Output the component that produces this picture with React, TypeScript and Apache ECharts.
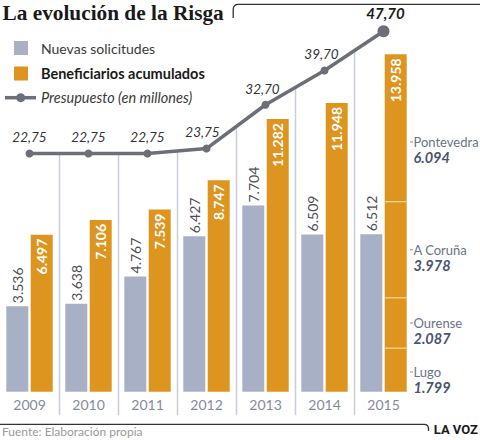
import React, { useEffect, useRef } from "react";
import * as echarts from "echarts";

const years = ["2009", "2010", "2011", "2012", "2013", "2014", "2015"];
const nuevasSolicitudes = [3536, 3638, 4767, 6427, 7704, 6509, 6512];
const beneficiarios = [6497, 7106, 7539, 8747, 11282, 11948, 13958];
const presupuesto = [22.75, 22.75, 22.75, 23.75, 32.7, 39.7, 47.7];
const provincias = ["Lugo", "Ourense", "A Coruña", "Pontevedra"];
const beneficiarios2015 = [1799, 2087, 3978, 6094];

const titleText = "La evolución de la Risga";
const legendNames = ["Nuevas solicitudes", "Beneficiarios acumulados", "Presupuesto (en millones)"];
const sourceText = "Fuente: Elaboración propia";
const brandText = "LA VOZ";

const GRAY = "#a8b0c5";
const ORANGE = "#de9520";
const LINE = "#6c6f78";
const SANS = "Lato, 'Noto Sans', sans-serif";

const fmtInt = (n: number) => String(n).replace(/\B(?=(\d{3})+(?!\d))/g, ".");
const fmtDec = (n: number) => n.toFixed(2).replace(".", ",");

echarts.graphic.registerShape(
  "frameTop",
  echarts.graphic.extendPath("M233.2,18 L233.2,9.5 Q233.2,4.3 238.4,4.3 L480,4.3", {})
);
echarts.graphic.registerShape(
  "frameBottom",
  echarts.graphic.extendPath("M0,424.3 L424,424.3 Q428.5,424.3 428.5,428.8 L428.5,431", {})
);

export default function App() {
  const ref = useRef<HTMLDivElement>(null);
  useEffect(() => {
    document.body.style.margin = "0";
    const chart = echarts.init(ref.current!, undefined, { renderer: "svg" });

    const sepData = years.slice(1).map((_, i) => [i + 1, 0]);
    let acc = 0;
    const breakdown = beneficiarios2015.map((v, i) => {
      const row = [years.length - 1, acc, v, i];
      acc += v;
      return row;
    });
    const labelShift = [2, 0, 0, 14];

    const option: any = {
      animation: false,
      backgroundColor: "#ffffff",
      grid: { left: -2, right: 67, top: 20, bottom: 48.3 },
      xAxis: {
        type: "category",
        data: years,
        boundaryGap: true,
        axisLine: { show: false },
        axisTick: { show: false },
        splitLine: { show: false },
        axisLabel: { color: "#848aa0", fontSize: 14, fontFamily: SANS, margin: 5.5 },
      },
      yAxis: [
        { type: "value", min: 0, max: 15380, show: false, splitLine: { show: false } },
        { type: "value", min: -25.9, max: 50, show: false, splitLine: { show: false } },
      ],
      series: [
        {
          type: "custom",
          name: "separadores",
          coordinateSystem: "cartesian2d",
          clip: false,
          z: 1,
          encode: { x: 0, y: 1 },
          data: sepData,
          renderItem: (params: any, api: any) => {
            const c = api.coord([api.value(0), 0]);
            const bw = api.size([1, 0])[0];
            const x = Math.round(c[0] - bw / 2) + 0.5;
            return {
              type: "line",
              shape: { x1: x, y1: params.coordSys.y, x2: x, y2: c[1] + 23.5 },
              style: { stroke: "#c8cdd9", lineWidth: 1.5 },
            };
          },
        },
        {
          type: "bar",
          name: legendNames[0],
          data: nuevasSolicitudes,
          barWidth: 22,
          barGap: "11%",
          itemStyle: { color: GRAY },
          label: {
            show: true,
            position: "top",
            rotate: 90,
            align: "left",
            verticalAlign: "middle",
            distance: 3,
            color: "#4d4f55",
            fontSize: 14,
            fontFamily: SANS,
            formatter: (p: any) => fmtInt(p.value),
          },
        },
        {
          type: "bar",
          name: legendNames[1],
          data: beneficiarios,
          barWidth: 22,
          itemStyle: { color: ORANGE },
          label: {
            show: true,
            position: "insideTop",
            rotate: 90,
            align: "right",
            verticalAlign: "middle",
            distance: 4,
            color: "#ffffff",
            fontWeight: "bold",
            fontSize: 14,
            fontFamily: SANS,
            formatter: (p: any) => fmtInt(p.value),
          },
        },
        {
          type: "line",
          name: legendNames[2],
          yAxisIndex: 1,
          z: 3,
          data: presupuesto.map((v, i) => {
            const last = i === presupuesto.length - 1;
            return {
              value: v,
              symbolSize: last ? 12 : 8,
              label: last
                ? { fontWeight: "bold", fontSize: 15, color: "#1a1a1a", offset: [2, 0] }
                : i === 3
                ? { offset: [-4, -1] }
                : i >= 4
                ? { offset: [-3, 0] }
                : {},
            };
          }),
          symbol: "circle",
          itemStyle: { color: LINE },
          lineStyle: { color: LINE, width: 3.5 },
          areaStyle: { color: "#ffffff", opacity: 1, origin: "end" },
          label: {
            show: true,
            position: "top",
            distance: 5,
            fontStyle: "italic",
            fontSize: 13.5,
            fontFamily: SANS,
            color: "#333333",
            formatter: (p: any) => fmtDec(p.value),
          },
        },
        {
          type: "custom",
          name: "desglose",
          coordinateSystem: "cartesian2d",
          clip: false,
          z: 4,
          encode: { x: 0, y: 1 },
          data: breakdown,
          renderItem: (params: any, api: any) => {
            const idx = api.value(0);
            const start = api.value(1);
            const val = api.value(2);
            const k = api.value(3);
            const base = api.coord([idx, start]);
            const mid = api.coord([idx, start + val / 2]);
            const cx = base[0];
            const ly = mid[1] + labelShift[k];
            const children: any[] = [];
            if (start > 0) {
              children.push({
                type: "line",
                shape: { x1: cx + 1.2, y1: base[1], x2: cx + 23.2, y2: base[1] },
                style: { stroke: "#f6d48c", lineWidth: 1.3 },
              });
            }
            children.push({
              type: "line",
              shape: { x1: cx + 26.5, y1: ly, x2: cx + 29.5, y2: ly },
              style: { stroke: "#8b91a3", lineWidth: 1 },
            });
            children.push({
              type: "text",
              style: {
                text: provincias[k],
                x: cx + 30,
                y: ly,
                verticalAlign: "middle",
                align: "left",
                fill: "#6b7286",
                fontSize: 13,
                fontFamily: SANS,
              },
            });
            children.push({
              type: "text",
              style: {
                text: fmtInt(val),
                x: cx + 30,
                y: ly + 15.5,
                verticalAlign: "middle",
                align: "left",
                fill: "#4a5572",
                fontSize: 14.5,
                fontWeight: "bold",
                fontStyle: "italic",
                fontFamily: SANS,
              },
            });
            return { type: "group", children };
          },
        },
      ],
      graphic: [
        {
          type: "text",
          z: 100,
          x: 2.5,
          y: 13,
          style: {
            text: titleText,
            font: "bold 21.3px 'Liberation Serif', serif",
            fill: "#1a1a1a",
            verticalAlign: "middle",
          },
        },
        { type: "frameTop", z: 100, style: { stroke: "#333", fill: "none", lineWidth: 1.3 } },
        { type: "frameBottom", z: 100, style: { stroke: "#333", fill: "none", lineWidth: 1.3 } },
        { type: "rect", z: 100, shape: { x: 14, y: 41, width: 14, height: 14 }, style: { fill: GRAY } },
        {
          type: "text",
          z: 100,
          x: 41,
          y: 48.3,
          style: { text: legendNames[0], font: `14px ${SANS}`, fill: "#3a3a3a", verticalAlign: "middle" },
        },
        { type: "rect", z: 100, shape: { x: 14, y: 66.5, width: 14, height: 14 }, style: { fill: ORANGE } },
        {
          type: "text",
          z: 100,
          x: 41,
          y: 73,
          style: { text: legendNames[1], font: `bold 14.5px ${SANS}`, fill: "#1a1a1a", verticalAlign: "middle" },
        },
        {
          type: "line",
          z: 100,
          shape: { x1: 5, y1: 97.7, x2: 36, y2: 97.7 },
          style: { stroke: LINE, lineWidth: 3.5 },
        },
        { type: "circle", z: 101, shape: { cx: 20.7, cy: 97.7, r: 4.5 }, style: { fill: LINE } },
        {
          type: "text",
          z: 100,
          x: 41,
          y: 97.7,
          style: { text: legendNames[2], font: `italic 14.5px ${SANS}`, fill: "#3a3a3a", verticalAlign: "middle" },
        },
        {
          type: "text",
          z: 100,
          x: 2,
          y: 431.5,
          style: { text: sourceText, font: `12px ${SANS}`, fill: "#9a9a9a", verticalAlign: "middle" },
        },
        {
          type: "text",
          z: 100,
          x: 478,
          y: 429.5,
          style: {
            text: brandText,
            font: "bold 13px Roboto, sans-serif",
            fill: "#1a1a1a",
            verticalAlign: "middle",
            align: "right",
          },
        },
      ],
    };
    chart.setOption(option);
    return () => chart.dispose();
  }, []);
  return <div ref={ref} style={{ width: 480, height: 440 }} />;
}
